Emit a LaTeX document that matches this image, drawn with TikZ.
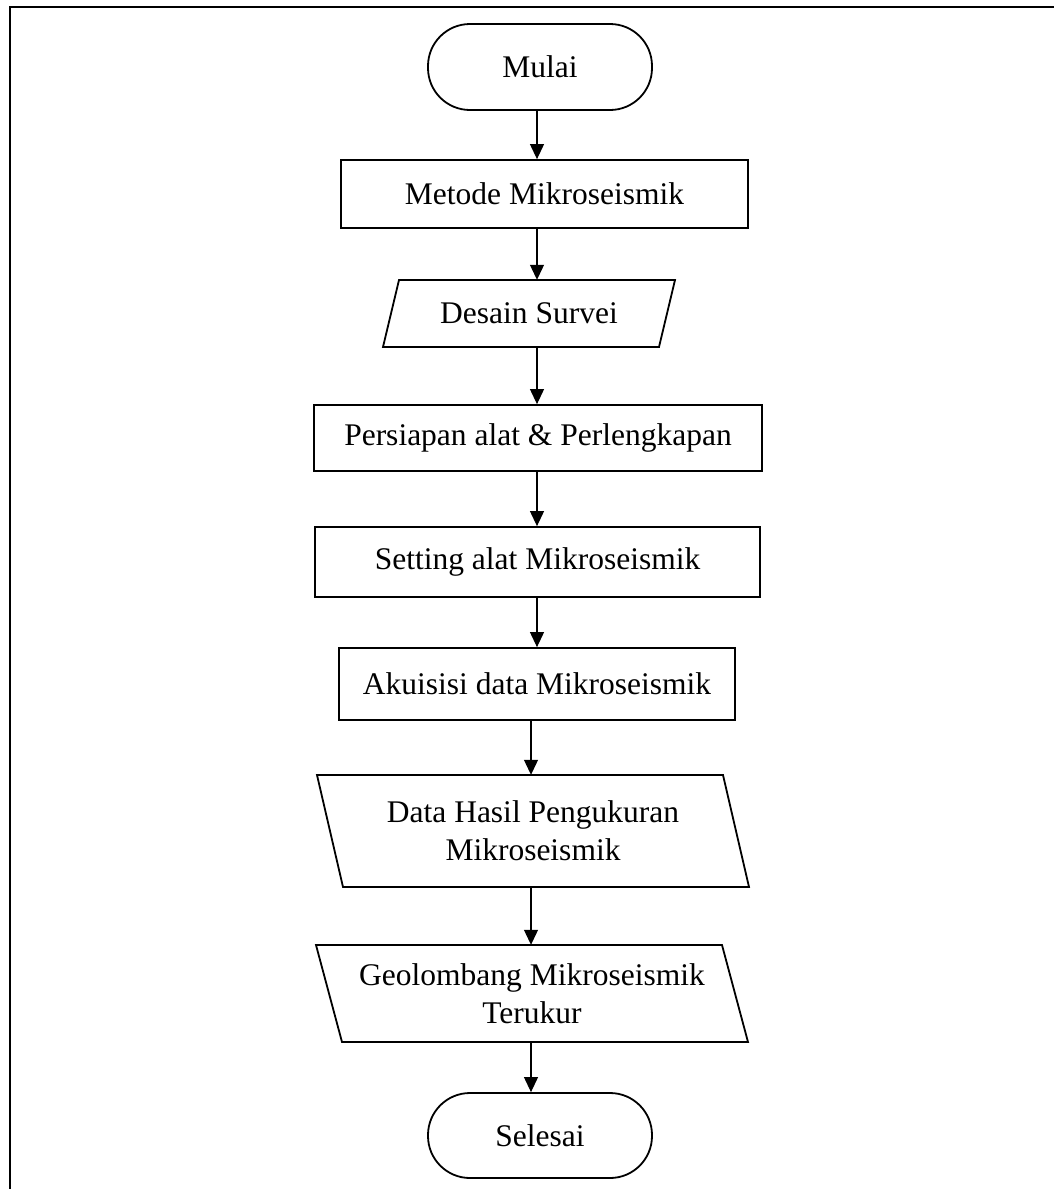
\documentclass[tikz,border=0pt]{standalone}
\usepackage{fontspec}
\setmainfont{Liberation Serif}
\usetikzlibrary{arrows.meta,calc}
\tikzset{
  box/.style={draw, line width=1.8pt, inner sep=0pt, font=\fontsize{31.5}{38}\selectfont, align=center},
  term/.style={box, rounded corners=42pt},
  ghost/.style={inner sep=0pt, font=\fontsize{31.5}{38}\selectfont, align=center},
  arr/.style={line width=1.1pt, -{Triangle[length=15pt,width=14pt]}},
  frame/.style={line width=2.6pt}
}
\newcommand\myslant[4]{% name, half width, half height, skew (top shift)
  \draw[line width=1.8pt] ($(#1.center)+(-#2+#4,-#3)$) -- ($(#1.center)+(#2+#4,-#3)$)
    -- ($(#1.center)+(#2-#4,#3)$) -- ($(#1.center)+(-#2-#4,#3)$) -- cycle;}
\begin{document}
\begin{tikzpicture}[x=1pt,y=-1pt]
\useasboundingbox (0,0) rectangle (1054,1189);
\clip (0,0) rectangle (1054,1189);
\draw[frame] (10,7) rectangle (1120,1260);

\coordinate (sp1) at (537,0);
\coordinate (sp2) at (531,0);

\node[term, minimum width=224pt, minimum height=86pt] (mulai) at (540,67) {Mulai};
\node[box, minimum width=407pt, minimum height=68pt] (metode) at (544.5,194) {Metode Mikroseismik};
\node[ghost, minimum width=260pt, minimum height=67pt] (desain) at (529,313.5) {Desain Survei};
\myslant{desain}{138}{33.5}{8}
\node[box, minimum width=448pt, minimum height=66pt] (persiapan) at (538,438) {Persiapan alat \& Perlengkapan};
\node[box, minimum width=445pt, minimum height=70pt] (setting) at (537.5,562) {Setting alat Mikroseismik};
\node[box, minimum width=396pt, minimum height=72pt] (akuisisi) at (537,684) {Akuisisi data Mikroseismik};
\node[ghost, minimum width=380pt, minimum height=112pt] (data) at (533,831) {Data Hasil Pengukuran\\Mikroseismik};
\myslant{data}{203}{56}{-13}
\node[ghost, minimum width=380pt, minimum height=97pt] (geo) at (532,993.5) {Geolombang Mikroseismik\\Terukur};
\myslant{geo}{203}{48.5}{-13}
\node[term, minimum width=224pt, minimum height=85pt] (selesai) at (540,1135.5) {Selesai};

\draw[arr] (sp1 |- mulai.south) -- (sp1 |- metode.north);
\draw[arr] (sp1 |- metode.south) -- (sp1 |- desain.north);
\draw[arr] (sp1 |- desain.south) -- (sp1 |- persiapan.north);
\draw[arr] (sp1 |- persiapan.south) -- (sp1 |- setting.north);
\draw[arr] (sp1 |- setting.south) -- (sp1 |- akuisisi.north);
\draw[arr] (sp2 |- akuisisi.south) -- (sp2 |- data.north);
\draw[arr] (sp2 |- data.south) -- (sp2 |- geo.north);
\draw[arr] (sp2 |- geo.south) -- (sp2 |- selesai.north);
\end{tikzpicture}
\end{document}
